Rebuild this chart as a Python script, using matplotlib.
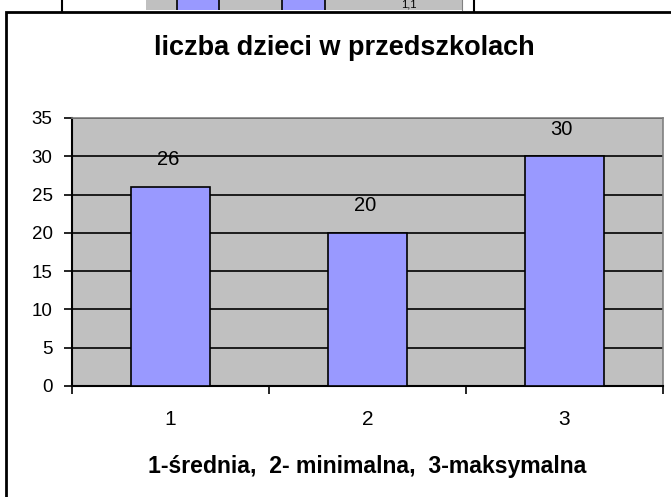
import matplotlib
matplotlib.use('Agg')
import matplotlib.pyplot as plt
from matplotlib.patches import Rectangle
import numpy as np

plt.rcParams['font.family'] = ['Liberation Sans', 'DejaVu Sans']

# data
categories = ['1', '2', '3']
counts = [26, 20, 30]
title = 'liczba dzieci w przedszkolach'
xlabel = '1-średnia,  2- minimalna,  3-maksymalna'

# fragment of the chart above (cut off at the top of the picture)
strip_values = [5.0, 5.0, 1.1]
strip_labels = ['', '', '1,1']

W, H = 671, 497
fig = plt.figure(figsize=(W / 100, H / 100), dpi=100)

def box(l, t, r, b):
    return [l / W, 1 - b / H, (r - l) / W, (b - t) / H]

# main plot area
ax = fig.add_axes(box(72, 118, 663, 386))
ax.set_facecolor('#C0C0C0')
x = np.arange(len(counts))
ax.bar(x, counts, 0.4, color='#9999FF', edgecolor='black', linewidth=1.2, zorder=3)
ax.set_xlim(-0.5, len(counts) - 0.5)
ax.set_ylim(0, 35)
ax.set_yticks(range(0, 36, 5))
ax.yaxis.grid(True, color='black', linewidth=1.2, zorder=1)
ax.set_axisbelow(True)

ax.set_xticks(x)
ax.set_xticklabels(categories)
ax.set_xticks(np.arange(-0.5, len(counts)), minor=True)
ax.tick_params(axis='x', which='major', length=0, pad=17, labelsize=15)
ax.tick_params(axis='x', which='minor', length=6, width=1.2, direction='out')
ax.tick_params(axis='y', length=6, width=1.2, pad=8, labelsize=13.5)

for s in ['left', 'bottom']:
    ax.spines[s].set_linewidth(1.5)
    ax.spines[s].set_color('black')
for s in ['top', 'right']:
    ax.spines[s].set_linewidth(1.2)
    ax.spines[s].set_color('#808080')

for xi, v in zip(x, counts):
    ax.annotate(str(v), (xi, v), xytext=(-2, 19.5), textcoords='offset points',
                ha='center', va='center', fontsize=14.5)

ax.set_xlabel(xlabel, fontsize=16.6, fontweight='bold')
ax.xaxis.set_label_coords(0.5, -0.302)
ax.xaxis.label.set_va('center')

fig.text(344 / W, 1 - 48 / H, title, ha='center', va='center',
         fontsize=19.5, fontweight='bold')

# outer chart frame (right and bottom edges fall outside the picture)
fig.patches.append(Rectangle((6 / W, -0.1), 1.2, 1 - 12 / H + 0.1,
                             transform=fig.transFigure, fill=False,
                             edgecolor='black', linewidth=2))

# strip of the previous chart at the top
sx = fig.add_axes(box(146, -2, 462, 10))
sx.set_facecolor('#C0C0C0')
sp = np.arange(len(strip_values))
sx.bar(sp, strip_values, 0.4, color='#9999FF', edgecolor='black', linewidth=1.2)
sx.set_xlim(-0.49, 2.5)
sx.set_ylim(3, 4)
for xi, lab in zip(sp, strip_labels):
    if lab:
        sx.text(xi, 3.45, lab, ha='center', va='center', fontsize=8)
sx.set_xticks([])
sx.set_yticks([])
for s in sx.spines.values():
    s.set_visible(False)
sx.spines['right'].set_visible(True)
sx.spines['right'].set_color('#808080')
for px in (62, 474):
    fig.add_artist(plt.Line2D([px / W, px / W], [1 - 11 / H, 1.0],
                              color='black', linewidth=1.5))

plt.savefig('out.png', dpi=100)
